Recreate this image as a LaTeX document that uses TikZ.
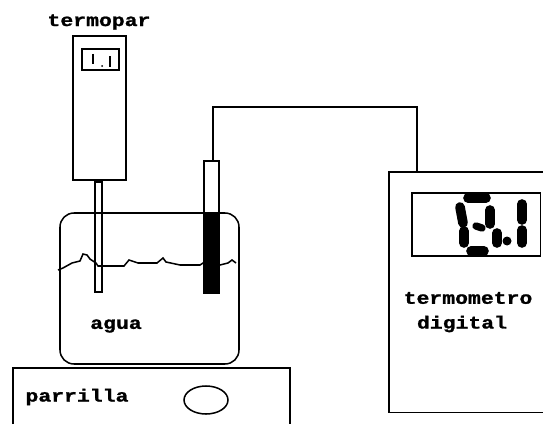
\documentclass[tikz,border=0pt]{standalone}
\usepackage{fontspec}
\newfontfamily\labelfont[FakeStretch=1.22,BoldFeatures={FakeBold=1.2}]{Liberation Mono}
\usetikzlibrary{positioning}
\tikzset{
    part/.style={line width=1.3pt},
    seg/.style={line width=0.29cm, line cap=round},
    lbl/.style={font=\labelfont\fontsize{15}{17}\selectfont\bfseries, inner sep=0pt},
}

\begin{document}
\begin{tikzpicture}[x=0.03cm, y=-0.03cm]
    \useasboundingbox (0,0) rectangle (543,424);

    % termopar
    \draw[part] (73,36) rectangle (126,180);
    \draw[part] (82,49) rectangle (119,70);
    \draw[line width=1pt] (93,54) -- (93,64);
    \draw[line width=1pt] (110,56) -- (110,67);
    \fill (102,66) circle (1);
    \draw[part] (95,180) rectangle (102,292);
    \fill (95,180) rectangle (102,183);

    % vaso
    \draw[part, rounded corners=0.42cm] (60,213) rectangle (239,364);
    \draw[line width=1.3pt] (58,270) -- (63,268) -- (72,263) -- (80,261) -- (83,254) -- (87,255)
        -- (90,259) -- (96,263) -- (98,266) -- (124,266) -- (129,260) -- (138,263) -- (157,263)
        -- (163,258) -- (166,262) -- (180,265) -- (200,265) -- (203,263) -- (220,265)
        -- (228,263) -- (232,260) -- (236,263);

    % sonda
    \draw[part] (204,161) rectangle (219,213);
    \fill (203,213) rectangle (219.5,294);
    \draw[part] (213,161) -- (213,107) -- (417,107) -- (417,172);

    % parrilla
    \draw[part] (13,424) -- (13,368) -- (290,368) -- (290,424);
    \draw[part] (206,400) ellipse (22 and 14);

    % termometro
    \draw[part] (543,172) -- (389,172) -- (389,412.5) -- (543,412.5);
    \draw[part] (412,193) rectangle (540.5,256);
    \draw[seg] (468,198) -- (486,198);
    \draw[seg] (460,207) -- (463,223);
    \draw[seg] (490,210) -- (490,224);
    \draw[seg, line width=0.22cm] (476,226) -- (482,228);
    \draw[seg] (464,231) -- (464,243);
    \draw[seg] (497,233) -- (497,243);
    \draw[seg] (471,251) -- (484,251);
    \fill (507,241) circle (4.5);
    \draw[seg] (522,204) -- (522,220);
    \draw[seg] (522,230) -- (522,243);

    \node[lbl] (termopar) at (99,22) {termopar};
    \node[lbl] (agua) at (116,326) {agua};
    \node[lbl] (parrilla) at (77,397) {parrilla};
    \node[lbl] (termometro) at (468,298) {termometro};
    \node[lbl] (digital) at (462,324) {digital};
\end{tikzpicture}
\end{document}
